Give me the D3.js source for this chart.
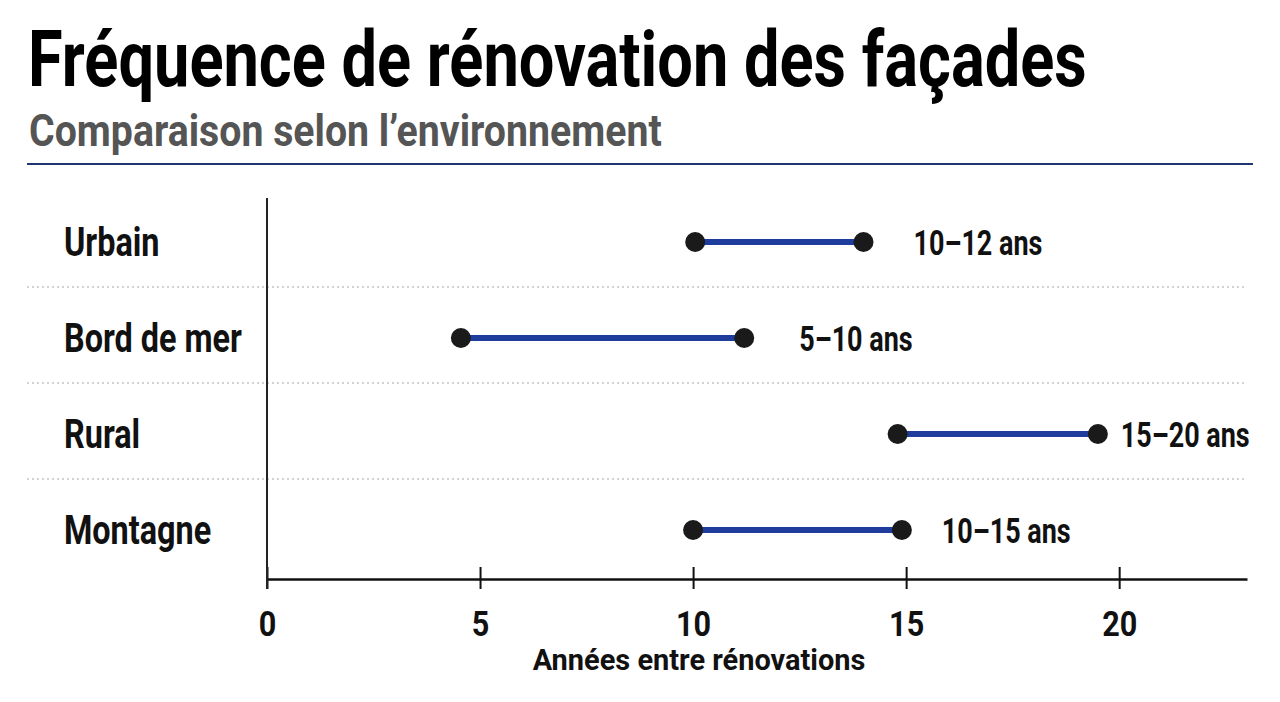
<!DOCTYPE html>
<html>
<head>
<meta charset="utf-8">
<script src="https://cdn.jsdelivr.net/npm/d3@7"></script>
<style>
  body { margin: 0; background: #fff; }
  text { font-family: Roboto, "Noto Sans", sans-serif; font-weight: 700; }
</style>
</head>
<body>
<div id="chart"></div>
<script>
var width = 1280, height = 702;

// data
const categories = ["Urbain", "Bord de mer", "Rural", "Montagne"];
const startValues = [10.05, 4.55, 14.8, 10.0];
const endValues = [14.0, 11.2, 19.5, 14.9];
const rangeLabels = ["10–12 ans", "5–10 ans", "15–20 ans", "10–15 ans"];
const xTicks = [0, 5, 10, 15, 20];

// label gap after the end dot (px), not uniform in the original
const labelGap = [50, 55, 23, 40];

// squeeze text horizontally (condensed look), k = factor or target width
function condense(sel, k, target) {
    sel.each(function () {
        const t = d3.select(this);
        const x0 = +t.attr("x") || 0;
        const f = target ? target / this.getComputedTextLength() : k;
        t.attr("x", 0).attr("transform", `translate(${x0},0) scale(${f},1)`);
    });
}

const svg = d3.select("#chart").append("svg")
    .attr("width", width)
    .attr("height", height);

//Title block
svg.append("text")
    .attr("x", 28).attr("y", 86)
    .style("font-size", "78px").attr("fill", "#000")
    .text("Fréquence de rénovation des façades")
    .call(condense, 1, 1059);

svg.append("text")
    .attr("x", 29).attr("y", 146)
    .style("font-size", "44px").attr("fill", "#555")
    .text("Comparaison selon l’environnement")
    .call(condense, 1, 633);

svg.append("line")
    .attr("x1", 27).attr("x2", 1253)
    .attr("y1", 164).attr("y2", 164)
    .attr("stroke", "#1f3670").attr("stroke-width", 2);

//Scales
const x = d3.scaleLinear().domain([0, 23]).range([267, 1247]);
const y = d3.scaleBand().domain(categories).range([194, 578]);
const rows = categories.map((c, i) => ({ cat: c, a: startValues[i], b: endValues[i], label: rangeLabels[i], gap: labelGap[i] }));

//Dotted separators between rows
svg.append("g").selectAll("line")
    .data(categories.slice(1))
    .join("line")
    .attr("x1", 27).attr("x2", 1245)
    .attr("y1", d => y(d) - 3).attr("y2", d => y(d) - 3)
    .attr("stroke", "#c4c4c4").attr("stroke-width", 1.5)
    .attr("stroke-dasharray", "2,3");

//Axes
const axisY = 579;
const xAxis = svg.append("g")
    .attr("transform", `translate(0, ${axisY})`)
    .call(d3.axisBottom(x).tickValues(xTicks).tickSize(10).tickSizeOuter(0).tickPadding(21));
xAxis.attr("font-family", null);
xAxis.select(".domain").attr("stroke", "#111").attr("stroke-width", 2.5);
xAxis.selectAll(".tick line").attr("y1", -12).attr("y2", 10).attr("stroke", "#111").attr("stroke-width", 2);
xAxis.selectAll(".tick text")
    .style("font-size", "36px").attr("fill", "#111")
    .call(condense, 0.85);

svg.append("line")
    .attr("x1", x(0)).attr("x2", x(0))
    .attr("y1", 198).attr("y2", 589)
    .attr("stroke", "#222").attr("stroke-width", 2);

svg.append("text")
    .attr("x", 699).attr("y", 670)
    .attr("text-anchor", "middle")
    .style("font-size", "30px").attr("fill", "#111")
    .text("Années entre rénovations")
    .call(condense, 1, 333);

//Category labels
svg.append("g").selectAll("text")
    .data(categories)
    .join("text")
    .attr("x", 64)
    .attr("y", d => y(d) + y.bandwidth() / 2)
    .attr("dy", "0.36em")
    .style("font-size", "40px").attr("fill", "#111")
    .text(d => d)
    .call(condense, 0.81);

//Dumbbells
const g = svg.append("g").selectAll("g").data(rows).join("g")
    .attr("transform", d => `translate(0, ${y(d.cat) + y.bandwidth() / 2})`);

g.append("line")
    .attr("x1", d => x(d.a)).attr("x2", d => x(d.b))
    .attr("stroke", "#1d3c9c").attr("stroke-width", 6);

g.selectAll("circle")
    .data(d => [d.a, d.b])
    .join("circle")
    .attr("cx", v => x(v)).attr("r", 10)
    .attr("fill", "#1a1a1a");

g.append("text")
    .attr("x", d => x(d.b) + d.gap)
    .attr("dy", "0.36em")
    .style("font-size", "35px").attr("fill", "#111")
    .text(d => d.label)
    .call(condense, 0.77);
</script>
</body>
</html>
